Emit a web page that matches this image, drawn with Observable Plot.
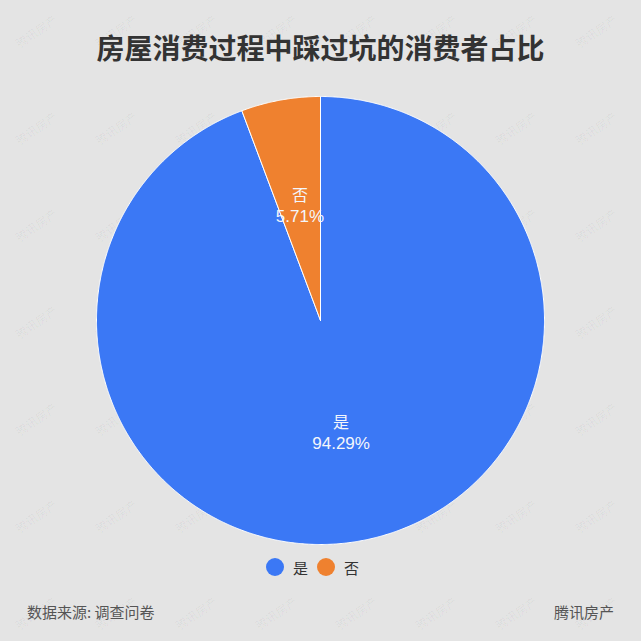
<!DOCTYPE html>
<html>
<head>
<meta charset="utf-8">
<script src="https://cdn.jsdelivr.net/npm/d3@7"></script>
<script src="https://cdn.jsdelivr.net/npm/@observablehq/plot@0.6"></script>
<style>
  html, body { margin: 0; padding: 0; background: #e4e4e4; }
  #wrap { position: relative; width: 641px; height: 641px; overflow: hidden; background: #e4e4e4;
          font-family: "Noto Sans CJK SC", "Noto Sans", sans-serif; }
  #title { position: absolute; left: 0; width: 641px; top: 27px; text-align: center;
           font-size: 28px; font-weight: bold; color: #333; line-height: 40px; }
  #chart { position: absolute; left: 0; top: 95px; }
  .wm { position: absolute; font-size: 12px; color: rgba(0,0,0,0.045); transform: rotate(-35deg); white-space: nowrap; }
  #legend { position: absolute; top: 556px; left: 0; width: 641px; height: 22px; }
  .lg { position: absolute; top: 0; display: flex; align-items: center; font-size: 15px; color: #333; height: 22px; }
  .sw { width: 18px; height: 18px; border-radius: 50%; margin-right: 9px; }
  #source { position: absolute; left: 27px; top: 601px; font-size: 15px; color: #555; }
  #brand { position: absolute; right: 27px; top: 601px; font-size: 15px; color: #555; }
</style>
</head>
<body>
<div id="wrap">
  <div id="wm"></div>
  <div id="title"></div>
  <div id="chart"></div>
  <div id="legend"></div>
  <div id="source"></div>
  <div id="brand"></div>
</div>
<script>
const titleText = "房屋消费过程中踩过坑的消费者占比";
const categories = ["是", "否"];
const values = [94.29, 5.71];
const colors = ["#3b78f5", "#ef812f"];
const sourceText = "数据来源: 调查问卷";
const brandText = "腾讯房产";

document.getElementById("title").textContent = titleText;
document.getElementById("source").textContent = sourceText;
document.getElementById("brand").textContent = brandText;

// faint watermarks
const wm = document.getElementById("wm");
for (let r = 0; r < 7; r++) {
  for (let c = 0; c < 8; c++) {
    const d = document.createElement("div");
    d.className = "wm";
    d.textContent = brandText;
    d.style.left = (12 + c * 80) + "px";
    d.style.top = (22 + r * 97) + "px";
    wm.appendChild(d);
  }
}

const data = categories.map((k, i) => ({key: k, value: values[i]}));
const pie = d3.pie().sort(null).value(d => d.value)(data);

// polygon points in unit space: angle measured clockwise from 12 o'clock
const pts = [];
pie.forEach(p => {
  const n = Math.max(2, Math.ceil((p.endAngle - p.startAngle) / 0.005));
  pts.push({key: p.data.key, x: 0, y: 0});
  for (let i = 0; i <= n; i++) {
    const a = p.startAngle + (p.endAngle - p.startAngle) * i / n;
    pts.push({key: p.data.key, x: Math.sin(a), y: Math.cos(a)});
  }
  pts.push({key: p.data.key, x: 0, y: 0});
});

const labels = pie.map(p => {
  const a = (p.startAngle + p.endAngle) / 2;
  const r = 0.515;
  return {key: p.data.key, pct: p.data.value.toFixed(2) + "%", x: Math.sin(a) * r, y: Math.cos(a) * r};
});

const plot = Plot.plot({
  width: 641,
  height: 450,
  marginLeft: 96,
  marginRight: 97,
  marginTop: 1,
  marginBottom: 1,
  x: {domain: [-1, 1], axis: null},
  y: {domain: [-1, 1], axis: null},
  color: {domain: categories, range: colors},
  style: {background: "transparent", fontFamily: "'Noto Sans CJK SC', 'Noto Sans', sans-serif"},
  marks: [
    Plot.line(pts, {x: "x", y: "y", z: "key", fill: "key", stroke: "#ffffff", strokeWidth: 1, curve: "linear"}),
    Plot.text(labels, {x: "x", y: "y", text: "key", fill: "#f4f6fb", fontSize: 16, dy: -11}),
    Plot.text(labels, {x: "x", y: "y", text: "pct", fill: "#f4f6fb", fontSize: 17, dy: 10, fontFamily: "'Liberation Sans', Arial, sans-serif"})
  ]
});
document.getElementById("chart").appendChild(plot);

// legend
const lg = document.getElementById("legend");
const lgX = [266, 317];
categories.forEach((k, i) => {
  const item = document.createElement("div");
  item.className = "lg";
  item.style.left = lgX[i] + "px";
  const sw = document.createElement("div");
  sw.className = "sw";
  sw.style.background = colors[i];
  item.appendChild(sw);
  const t = document.createElement("span");
  t.textContent = k;
  item.appendChild(t);
  lg.appendChild(item);
});
</script>
</body>
</html>
